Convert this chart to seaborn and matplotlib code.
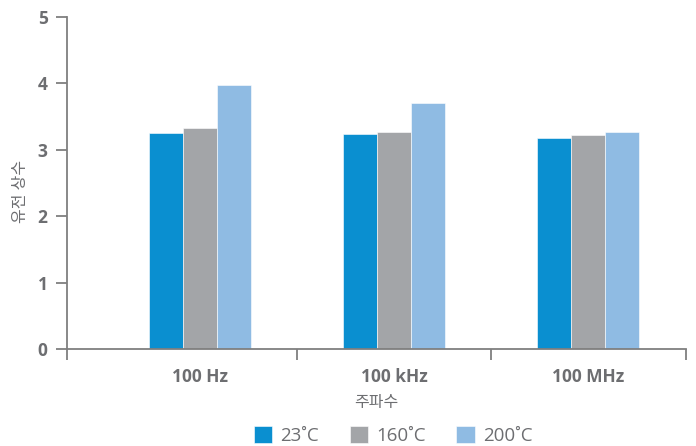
import matplotlib
matplotlib.use("Agg")
import matplotlib.pyplot as plt
import seaborn as sns
import pandas as pd

categories = ["100 Hz", "100 kHz", "100 MHz"]
series_names = ["23˚C", "160˚C", "200˚C"]
vals_23 = [3.25, 3.24, 3.18]
vals_160 = [3.33, 3.27, 3.22]
vals_200 = [3.98, 3.70, 3.27]
colors = ["#0A8FD0", "#A3A5A8", "#8FBBE3"]

rows = []
for name, vals in zip(series_names, [vals_23, vals_160, vals_200]):
    for c, v in zip(categories, vals):
        rows.append({"freq": c, "temp": name, "val": v})
df = pd.DataFrame(rows)

sns.set_theme(style="white")
plt.rcParams['font.family'] = ['Open Sans', 'Noto Sans CJK KR', 'DejaVu Sans']
txt = "#6D6E71"
axc = "#7F7F7F"

fig = plt.figure(figsize=(6.96, 4.46), dpi=100)
ax = fig.add_axes([67/696, 1 - 349/446, 619/696, 332/446])
sns.barplot(data=df, x="freq", y="val", hue="temp", palette=colors,
            width=0.53, saturation=1, ax=ax, legend=True, errorbar=None,
            edgecolor="white", linewidth=0.4)

x0, x1 = -0.686, 2.505
ax.set_xlim(x0, x1)
ax.set_ylim(0, 5)
ax.set_yticks([0, 1, 2, 3, 4, 5])
ax.set_xticks([0, 1, 2])
ax.set_xticklabels(categories)
ax.set_xticks([x0, 0.5, 1.5, x1], minor=True)

for s in ["top", "right"]:
    ax.spines[s].set_visible(False)
for s in ["left", "bottom"]:
    ax.spines[s].set_color(axc)
    ax.spines[s].set_linewidth(1.3)

ax.tick_params(axis="x", which="major", bottom=True, length=0, pad=14, labelsize=12.5, labelcolor=txt)
ax.tick_params(axis="x", which="minor", bottom=True, length=8, width=1.3, color=axc, direction="out")
ax.tick_params(axis="y", which="major", left=True, length=8, width=1.3, color=axc, direction="out",
               pad=6, labelsize=12.5, labelcolor=txt)
for lab in ax.get_xticklabels() + ax.get_yticklabels():
    lab.set_fontweight("bold")

ax.set_xlabel("주파수", color=txt, fontsize=11.5, labelpad=6)
ax.set_ylabel("유전 상수", color=txt, fontsize=11.5)
ax.yaxis.set_label_coords(-0.062, 0.476)

ax.get_legend().remove()
handles, labels = ax.get_legend_handles_labels()
fig.legend(handles, labels, loc="lower center", bbox_to_anchor=(393/696, -0.035),
           ncol=3, frameon=False, fontsize=13.5, labelcolor=txt,
           handlelength=1.0, handleheight=1.0, handletextpad=0.4, columnspacing=1.65)

fig.savefig("out.png", dpi=100)
